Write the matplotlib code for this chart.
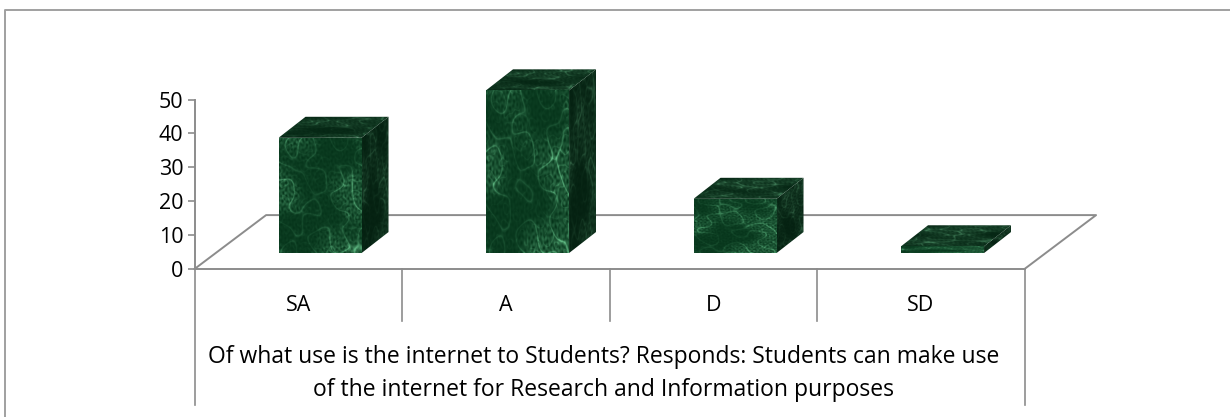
import matplotlib
matplotlib.use('Agg')
import matplotlib.pyplot as plt
import numpy as np
from matplotlib.patches import Polygon

categories = ['SA', 'A', 'D', 'SD']
values = [34, 48, 16, 2]
y_ticks = [0, 10, 20, 30, 40, 50]
x_title = ('Of what use is the internet to Students? Responds: Students can make use\n'
           'of the internet for Research and Information purposes')

plt.rcParams['font.family'] = ['Open Sans', 'DejaVu Sans']
GRAY = '#8c8c8c'


# wavy field made of many plain sines, turned by the golden angle so it looks less regular
def waves(u, v, start, count, phase, scale=3.1):
    out = np.zeros_like(u)
    for k in range(start, start + count):
        ang = k * 2.39996
        freq = 4 + scale * k
        out += np.sin(freq * (np.cos(ang) * u + np.sin(ang) * v) + k * 1.7 + phase) / (1 + 0.12 * k)
    return out


# marble look for the bar faces
def marble(nx, ny, phase):
    u, v = np.meshgrid(np.linspace(0, 1, nx), np.linspace(0, 1, ny))
    warp = waves(u, v, 1, 9, phase)
    veins = (np.exp(-np.abs(waves(u, v, 3, 5, phase + 1, 3.4) + 0.3 * warp) * 9)
             + 0.5 * np.exp(-np.abs(waves(u, v, 6, 7, phase + 2, 5.5) + 0.4 * warp) * 10))
    blotch = np.clip(0.5 + 0.4 * waves(u, v, 0, 4, phase + 3), 0, 1)
    grain = np.clip(0.5 + 0.3 * waves(u, v, 14, 12, phase + 4, 8.0), 0, 1)
    dark = np.array([0.02, 0.20, 0.10])
    light = np.array([0.40, 0.76, 0.54])
    t = np.clip(0.34 * blotch * grain + 0.08 * grain + 0.62 * veins * (0.35 + blotch), 0, 1)[..., None]
    return dark + (light - dark) * t


fig = plt.figure(figsize=(12.3, 4.17), dpi=100)
# chart frame, only the top and left edges are inside the picture
fig.add_artist(plt.Line2D([5 / 1230, 5 / 1230, 1], [0, (417 - 9.5) / 417, (417 - 9.5) / 417],
                          color='#a0a0a0', linewidth=1.4, transform=fig.transFigure))

ax = fig.add_axes([194.5 / 1230, (417 - 269) / 417, 830 / 1230, 169.5 / 417])
ax.patch.set_visible(False)
for s in ['top', 'right']:
    ax.spines[s].set_visible(False)
for s in ['left', 'bottom']:
    ax.spines[s].set_color(GRAY)
    ax.spines[s].set_linewidth(1.4)

ax.set_yticks(y_ticks)
ax.tick_params(axis='y', color=GRAY, length=5, width=1.2, labelsize=15.5, pad=3, labelcolor='black')
ax.set_xticks([])

# floor of the 3d box
floor_dx, floor_dy = 0.345, 15.9
ax.plot([0, floor_dx, 4 + floor_dx, 4], [0, floor_dy, floor_dy, 0], color=GRAY, lw=1.4,
        clip_on=False, zorder=1)

# category dividers and the long label below
for i in range(5):
    low = -15.3 if i in (1, 2, 3) else -40
    ax.plot([i, i], [0, low], color=GRAY, lw=1.2, clip_on=False, zorder=1)
for i, c in enumerate(categories):
    ax.text(i + 0.5, -10.9, c, ha='center', va='center', fontsize=15.5)
ax.text(1.97, -30.8, x_title, ha='center', va='center', fontsize=16.5, linespacing=1.5)

# bars
base, offset, width = 4.7, 0.405, 0.40
dx, dy = 0.13, 6.2
for i, val in enumerate(values):
    x0, x1 = i + offset, i + offset + width
    y0, y1 = base, base + val
    faces = [
        ([(x0, y0), (x1, y0), (x1, y1), (x0, y1)], 1.0, (x0, x1, y0, y1)),
        ([(x1, y0), (x1 + dx, y0 + dy), (x1 + dx, y1 + dy), (x1, y1)], 0.6, (x1, x1 + dx, y0, y1 + dy)),
        ([(x0, y1), (x1, y1), (x1 + dx, y1 + dy), (x0 + dx, y1 + dy)], 0.7, (x0, x1 + dx, y1, y1 + dy)),
    ]
    for j, (pts, shade, ext) in enumerate(faces):
        tex = marble(220, 320, 0.7 * j + 0.4 * i) * shade
        poly = Polygon(pts, closed=True, facecolor='none', edgecolor='none', transform=ax.transData)
        ax.add_patch(poly)
        poly.set_clip_on(False)
        im = ax.imshow(tex, extent=ext, origin='lower', aspect='auto', zorder=3,
                       interpolation='bilinear')
        im.set_clip_box(fig.bbox)
        im.set_clip_path(poly)
ax.set_xlim(0, 4)
ax.set_ylim(0, 50)

fig.savefig('out.png', dpi=100)
